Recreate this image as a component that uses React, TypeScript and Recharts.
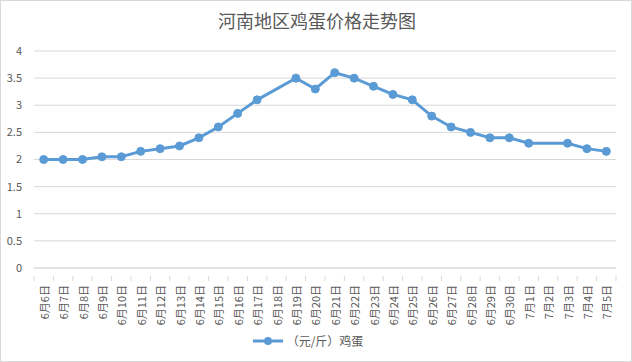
import React from "react";
import { LineChart, Line, XAxis, YAxis, CartesianGrid, Legend } from "recharts";

const dates = [
  "6月6日", "6月7日", "6月8日", "6月9日", "6月10日", "6月11日", "6月12日", "6月13日",
  "6月14日", "6月15日", "6月16日", "6月17日", "6月18日", "6月19日", "6月20日", "6月21日",
  "6月22日", "6月23日", "6月24日", "6月25日", "6月26日", "6月27日", "6月28日", "6月29日",
  "6月30日", "7月1日", "7月2日", "7月3日", "7月4日", "7月5日",
];
const eggPrice: (number | null)[] = [
  2.0, 2.0, 2.0, 2.05, 2.05, 2.15, 2.2, 2.25,
  2.4, 2.6, 2.85, 3.1, null, 3.5, 3.3, 3.6,
  3.5, 3.35, 3.2, 3.1, 2.8, 2.6, 2.5, 2.4,
  2.4, 2.3, null, 2.3, 2.2, 2.15,
];
const yTicks = [0, 0.5, 1, 1.5, 2, 2.5, 3, 3.5, 4];
const seriesName = "（元/斤）鸡蛋";
const title = "河南地区鸡蛋价格走势图";

const data = dates.map((d, i) => ({ date: d, price: eggPrice[i] }));

const W = 632;
const H = 362;
const LEFT = 34;
const RIGHT = 16;
const BW = (W - LEFT - RIGHT) / dates.length;
const FONT = '"Noto Sans CJK SC", "Noto Sans", sans-serif';
const COLOR = "#5b9bd5";
const TEXT = "#595959";

const XTick = (props: any) => {
  const { x, y, payload, index } = props;
  const isLast = index === dates.length - 1;
  return (
    <g>
      <line x1={x - BW / 2} y1={y} x2={x - BW / 2} y2={y + 5} stroke="#d9d9d9" />
      {isLast && <line x1={x + BW / 2} y1={y} x2={x + BW / 2} y2={y + 5} stroke="#d9d9d9" />}
      <text
        x={x}
        y={y + 9}
        transform={`rotate(-90, ${x}, ${y + 9})`}
        textAnchor="end"
        dominantBaseline="central"
        fontSize={11}
        fill={TEXT}
        fontFamily={FONT}
      >
        {payload.value}
      </text>
    </g>
  );
};

const LegendContent = () => (
  <div style={{ display: "flex", justifyContent: "center", alignItems: "center", fontFamily: FONT, fontSize: 12, color: TEXT }}>
    <svg width={30} height={10} style={{ marginRight: 4 }}>
      <line x1={0} y1={5} x2={30} y2={5} stroke={COLOR} strokeWidth={3} />
      <circle cx={15} cy={5} r={4} fill={COLOR} />
    </svg>
    <span>{seriesName}</span>
  </div>
);

export default function App() {
  return (
    <div style={{ position: "absolute", left: 0, top: 0, width: W, height: H, background: "#fff", boxSizing: "border-box", border: "1px solid #d9d9d9" }}>
      <div style={{ position: "absolute", left: 0, top: 6, width: W, textAlign: "center", fontFamily: FONT, fontSize: 18, color: TEXT }}>
        {title}
      </div>
      <div style={{ position: "absolute", left: -1, top: -1 }}>
        <LineChart width={W} height={H} data={data} margin={{ top: 51, right: RIGHT, bottom: 4, left: 0 }}>
          <CartesianGrid vertical={false} stroke="#d9d9d9" />
          <XAxis
            dataKey="date"
            scale="band"
            interval={0}
            height={64}
            tick={<XTick />}
            tickLine={false}
            axisLine={{ stroke: "#d9d9d9" }}
          />
          <YAxis
            width={LEFT}
            domain={[0, 4]}
            ticks={yTicks}
            axisLine={false}
            tickLine={false}
            tickSize={0}
            tickMargin={12}
            tick={{ fontSize: 11, fill: TEXT, fontFamily: FONT }}
          />
          <Legend verticalAlign="bottom" height={26} content={<LegendContent />} />
          <Line
            dataKey="price"
            name={seriesName}
            stroke={COLOR}
            strokeWidth={3}
            dot={{ r: 4, fill: COLOR, stroke: COLOR, strokeWidth: 1 }}
            connectNulls
            isAnimationActive={false}
          />
        </LineChart>
      </div>
    </div>
  );
}
